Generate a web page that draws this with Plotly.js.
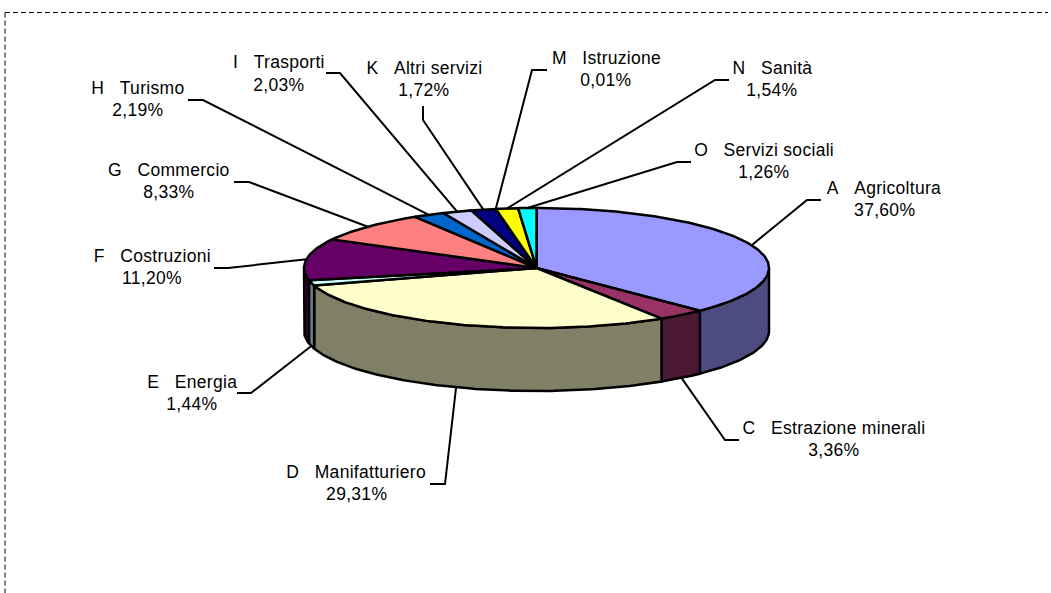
<!DOCTYPE html>
<html>
<head>
<meta charset="utf-8">
<script src="https://cdn.plot.ly/plotly-3.0.1.min.js"></script>
<style>html,body{margin:0;padding:0;background:#fff;overflow:hidden}
#chart .annotation text{letter-spacing:.3px}</style>
</head>
<body>
<div id="chart" style="width:1051px;height:593px"></div>
<script>
// ---- data ----
const sectorCodes = ['A','C','D','E','F','G','H','I','K','M','N','O'];
const sectorNames = ['Agricoltura','Estrazione minerali','Manifatturiero','Energia','Costruzioni','Commercio','Turismo','Trasporti','Altri servizi','Istruzione','Sanità','Servizi sociali'];
const shares = [37.60,3.36,29.31,1.44,11.20,8.33,2.19,2.03,1.72,0.01,1.54,1.26];
const topColors = ['#9999FF','#993366','#FFFFCC','#CCFFFF','#660066','#FF8080','#0066CC','#CCCCFF','#000080','#FF00FF','#FFFF00','#00FFFF'];
const sideColors = ['#4C4C80','#4C1933','#808066','#668080','#330033','#804040','#003366','#666680','#000040','#800080','#808000','#008080'];

// ---- layout of the tilted disc and of the labels ----
const cx = 536.5, cy = 268, rx = 232.5, ry = 60, depth = 63;
const labelX = [884,834,356,192,152,169,138,279,424,606,772,764];
const nameY  = [188,428,472,382,256,170,88,62,68,58,68,150];
const valueY = [210,450,494,404,278,192,110,85,90,80,90,172];
const leaderEnd   = [[821,200],[739,440],[430,484],[237,393],[214,268],[234,182],[188,100],[326,73],[423,106],[547,70],[729,80],[691,162]];
const leaderElbow = [[807,200],[725,440],[445,484],[251,393],[228,268],[249,182],[203,100],[340,73],[423,120],[532,70],[715,80],[677,162]];

const total = shares.reduce((a,b)=>a+b,0);
const rimX = t => cx + rx*Math.sin(t*Math.PI/180);
const rimY = t => cy - ry*Math.cos(t*Math.PI/180);
const arc = (a,b) => { const out=[]; const n=Math.max(2,Math.ceil(Math.abs(b-a))); for(let i=0;i<=n;i++) out.push(a+(b-a)*i/n); return out; };

const starts=[], ends=[]; let acc=0;
shares.forEach(v=>{ starts.push(acc/total*360); acc+=v; ends.push(acc/total*360); });

const traces=[];
// side walls of the front half
sectorNames.forEach((name,i)=>{
  const a=Math.max(starts[i],90), b=Math.min(ends[i],270);
  if(b<=a) return;
  const top=arc(a,b), bot=top.slice().reverse();
  traces.push({type:'scatter',mode:'lines',fill:'toself',fillcolor:sideColors[i],
    x:[...top.map(rimX),...bot.map(rimX),rimX(a)],
    y:[...top.map(rimY),...bot.map(t=>rimY(t)+depth),rimY(a)],
    line:{color:'#000',width:2.5},hoverinfo:'skip',showlegend:false});
});
// top faces
sectorNames.forEach((name,i)=>{
  const t=arc(starts[i],ends[i]);
  traces.push({type:'scatter',mode:'lines',fill:'toself',fillcolor:topColors[i],
    x:[cx,...t.map(rimX),cx],y:[cy,...t.map(rimY),cy],
    line:{color:'#000',width:2.5},name:sectorCodes[i]+' '+name,
    text:sectorCodes[i]+' '+name+': '+shares[i].toFixed(2).replace('.',',')+'%',hoverinfo:'text',hoveron:'fills',showlegend:false});
});
// leader lines, from the middle of each slice's rim
sectorNames.forEach((name,i)=>{
  const m=(starts[i]+ends[i])/2;
  const front=m>90&&m<270;
  traces.push({type:'scatter',mode:'lines',
    x:[leaderEnd[i][0],leaderElbow[i][0],rimX(m)],
    y:[leaderEnd[i][1],leaderElbow[i][1],rimY(m)+(front?depth:0)],
    line:{color:'#000',width:2},hoverinfo:'skip',showlegend:false});
});

const font={family:'"Liberation Sans",Arial,sans-serif',size:17.5,color:'#000'};
const annotations=[];
sectorNames.forEach((name,i)=>{
  annotations.push({xref:'x',yref:'y',x:labelX[i],y:nameY[i],text:sectorCodes[i]+'\u00A0\u00A0\u00A0'+name,showarrow:false,font,xanchor:'center',yanchor:'middle'});
  annotations.push({xref:'x',yref:'y',x:labelX[i],y:valueY[i],text:shares[i].toFixed(2).replace('.',',')+'%',showarrow:false,font,xanchor:'center',yanchor:'middle'});
});

const frame={type:'line',xref:'x',yref:'y',line:{color:'#000',width:1,dash:'5px,3px'}};
const layout={
  width:1051,height:593,margin:{l:0,r:0,t:0,b:0},
  paper_bgcolor:'#fff',plot_bgcolor:'#fff',showlegend:false,
  xaxis:{range:[0,1051],visible:false,fixedrange:true},
  yaxis:{range:[593,0],visible:false,fixedrange:true},
  annotations,
  shapes:[
    Object.assign({},frame,{x0:5,y0:12.5,x1:1048,y1:12.5}),
    Object.assign({},frame,{x0:5,y0:12.5,x1:5,y1:593})
  ]
};
Plotly.newPlot('chart',traces,layout,{displayModeBar:false,responsive:false});
</script>
</body>
</html>
